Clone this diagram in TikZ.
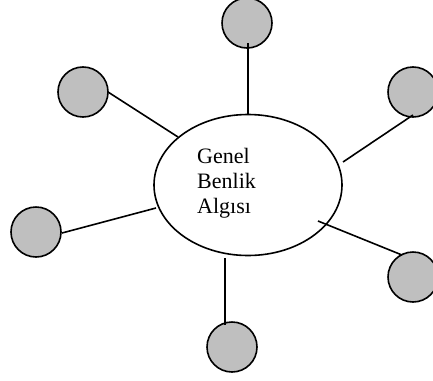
\documentclass[tikz,border=0pt]{standalone}
\usepackage{fontspec}
\setmainfont{Liberation Serif}
\usetikzlibrary{shapes.geometric}
\begin{document}
\begin{tikzpicture}[x=1pt,y=-1pt,
  spoke/.style={draw=black,line width=1.6pt},
  leaf/.style={circle,draw=black,line width=1.6pt,fill=black!25,minimum size=50pt,inner sep=0pt},
  hub/.style={ellipse,draw=black,line width=1.6pt,fill=white,minimum width=188pt,minimum height=141pt,inner sep=0pt}]
\useasboundingbox (0,0) rectangle (433,380);
\clip (0,0) rectangle (433,380);
% outer circles
\node[leaf] (top)   at (247,23)  {};
\node[leaf] (ul)    at (83,92)   {};
\node[leaf] (ur)    at (413,92)  {};
\node[leaf] (left)  at (36,232)  {};
\node[leaf] (lr)    at (413,277) {};
\node[leaf] (bot)   at (232,347) {};
% central ellipse
\node[hub] (self) at (248,185) {};
\node[anchor=north west,inner sep=0pt,align=left,
      font=\fontsize{22}{25}\selectfont] (label) at (197,148) {Genel\\Benlik\\Algısı};
% spoke end points
\coordinate (a1) at (248,114); \coordinate (b1) at (248,43);
\coordinate (a2) at (178,137); \coordinate (b2) at (108,92);
\coordinate (a3) at (343,162); \coordinate (b3) at (413,115);
\coordinate (a4) at (156,208); \coordinate (b4) at (62,233);
\coordinate (a5) at (318,221); \coordinate (b5) at (402,255);
\coordinate (a6) at (225,258); \coordinate (b6) at (225,325);
% spokes
\draw[spoke] (a1) -- (b1);
\draw[spoke] (a2) -- (b2);
\draw[spoke] (a3) -- (b3);
\draw[spoke] (a4) -- (b4);
\draw[spoke] (a5) -- (b5);
\draw[spoke] (a6) -- (b6);
\end{tikzpicture}
\end{document}
